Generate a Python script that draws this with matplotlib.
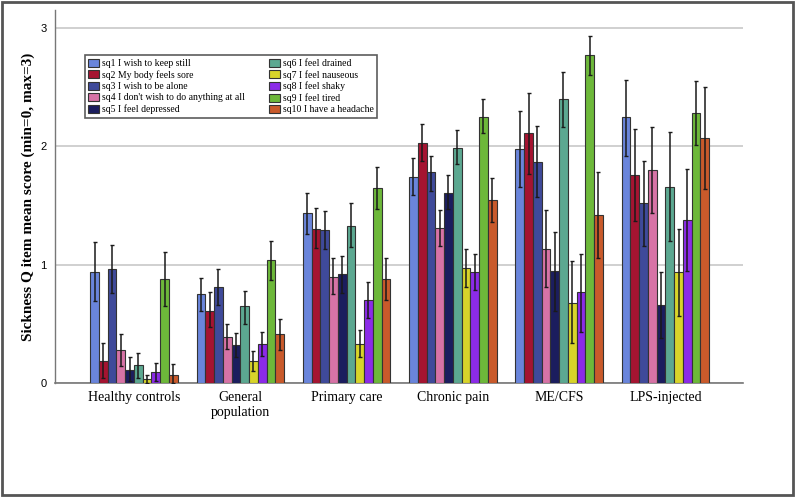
import matplotlib
matplotlib.use("Agg")
import matplotlib.pyplot as plt
import numpy as np
from matplotlib.patches import Rectangle

groups = ["Healthy controls", "General\npopulation", "Primary care", "Chronic pain", "ME/CFS", "LPS-injected"]
items = ["sq1 I wish to keep still", "sq2 My body feels sore", "sq3 I wish to be alone",
         "sq4 I don't wish to do anything at all", "sq5 I feel depressed", "sq6 I feel drained",
         "sq7 I feel nauseous", "sq8 I feel shaky", "sq9 I feel tired", "sq10 I have a headache"]
colors = ["#6A85DB", "#A51431", "#3F4A9A", "#D773A6", "#1B1D5E", "#5CA891",
          "#D8D42A", "#8B2BE8", "#6DB83A", "#C95A2B"]

# mean values per group (rows) and item (columns)
means = [
    [0.94, 0.19, 0.96, 0.28, 0.11, 0.15, 0.03, 0.09, 0.88, 0.07],
    [0.75, 0.61, 0.81, 0.39, 0.32, 0.65, 0.19, 0.33, 1.04, 0.41],
    [1.44, 1.30, 1.29, 0.90, 0.92, 1.33, 0.33, 0.70, 1.65, 0.88],
    [1.74, 2.03, 1.78, 1.31, 1.61, 1.99, 0.97, 0.94, 2.25, 1.55],
    [1.98, 2.11, 1.87, 1.135, 0.95, 2.40, 0.68, 0.77, 2.77, 1.42],
    [2.25, 1.76, 1.52, 1.80, 0.66, 1.66, 0.935, 1.38, 2.28, 2.07],
]
lower = [
    [0.69, 0.04, 0.76, 0.14, 0.02, 0.045, 0.00, 0.02, 0.65, 0.00],
    [0.61, 0.47, 0.66, 0.29, 0.22, 0.50, 0.10, 0.23, 0.87, 0.28],
    [1.26, 1.14, 1.13, 0.75, 0.76, 1.15, 0.22, 0.55, 1.47, 0.70],
    [1.59, 1.88, 1.62, 1.16, 1.47, 1.85, 0.81, 0.79, 2.11, 1.36],
    [1.66, 1.77, 1.57, 0.81, 0.61, 2.16, 0.34, 0.43, 2.60, 1.06],
    [1.92, 1.37, 1.155, 1.44, 0.38, 1.20, 0.57, 0.95, 2.01, 1.64],
]
upper = [
    [1.195, 0.335, 1.17, 0.41, 0.22, 0.25, 0.07, 0.17, 1.11, 0.16],
    [0.89, 0.77, 0.96, 0.50, 0.42, 0.78, 0.27, 0.43, 1.20, 0.54],
    [1.61, 1.48, 1.45, 1.06, 1.07, 1.52, 0.45, 0.85, 1.83, 1.06],
    [1.90, 2.19, 1.92, 1.46, 1.76, 2.14, 1.13, 1.09, 2.40, 1.73],
    [2.30, 2.45, 2.17, 1.46, 1.28, 2.63, 1.03, 1.09, 2.93, 1.78],
    [2.56, 2.15, 1.88, 2.16, 0.94, 2.12, 1.30, 1.81, 2.55, 2.50],
]

means = np.array(means); lower = np.array(lower); upper = np.array(upper)

fig = plt.figure(figsize=(7.96, 4.97), dpi=100)
ax = fig.add_axes([55/796, 1-383/497, (743-55)/796, (383-10)/497])

x = np.arange(len(groups))
w = 0.0823
n = len(items)
for j in range(n):
    pos = x + (j - (n-1)/2) * w
    m = means[:, j]
    err = np.vstack([m - lower[:, j], upper[:, j] - m])
    ax.bar(pos, m, width=w, color=colors[j], edgecolor="#333333", linewidth=0.8,
           label=items[j], zorder=3)
    ax.errorbar(pos, m, yerr=err, fmt="none", ecolor="#1a1a1a", elinewidth=1.1,
                capsize=1.2, capthick=1.0, zorder=4)

ax.set_xlim(-0.743, 5.73)
ax.set_ylim(0, 3.153)
ax.set_yticks([0, 1, 2, 3])
ax.set_yticklabels(["0", "1", "2", "3"], fontfamily="Liberation Sans", fontsize=8)
ax.set_xticks(x)
ax.set_xticklabels(groups, fontfamily="Liberation Serif", fontsize=10)
ax.tick_params(axis="both", length=0)
ax.tick_params(axis="x", pad=6)
ax.tick_params(axis="y", pad=6)
ax.yaxis.grid(True, color="#c8c8c8", linewidth=1.2, zorder=0)
ax.set_axisbelow(True)
for s in ["top", "right"]:
    ax.spines[s].set_visible(False)
ax.spines["left"].set_color("#777777")
ax.spines["bottom"].set_color("#777777")
ax.spines["left"].set_linewidth(1.0)
ax.spines["bottom"].set_linewidth(1.2)

ax.set_ylabel("Sickness Q item mean score (min=0, max=3)", fontfamily="Liberation Serif",
              fontweight="bold", fontsize=11, labelpad=4)

leg = ax.legend(ncol=2, loc="upper left", bbox_to_anchor=((85-55)/688, (383-55)/373),
                prop={"family": "Liberation Serif", "size": 7}, frameon=True, fancybox=False,
                handlelength=1.1, handleheight=0.9, handletextpad=0.3, columnspacing=2.5,
                labelspacing=0.2, borderpad=0.35, borderaxespad=0)
leg.get_frame().set_edgecolor("#333333")
leg.get_frame().set_linewidth(1.2)

fig.patches.append(Rectangle((0.003, 0.004), 0.993, 0.992, transform=fig.transFigure,
                             fill=False, edgecolor="#555555", linewidth=2))

fig.savefig("out.png", dpi=100)
